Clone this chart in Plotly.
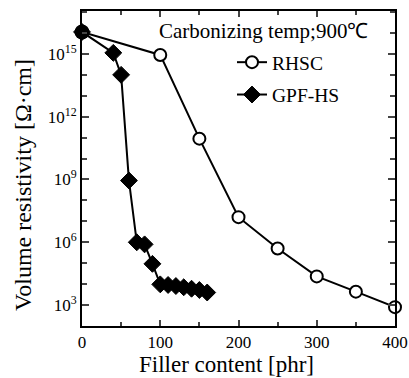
import plotly.graph_objects as go

rhsc_x = [0, 100, 150, 200, 250, 300, 350, 400]
rhsc_log = [16.05, 14.95, 10.95, 7.2, 5.7, 4.37, 3.64, 2.9]
gpf_x = [0, 40, 50, 60, 70, 80, 90, 100, 110, 120, 130, 140, 150, 160]
gpf_log = [16.05, 15.05, 14.0, 8.95, 6.0, 5.9, 4.97, 3.99, 3.96, 3.91, 3.85, 3.78, 3.72, 3.6]
y_tick_exp = [3, 6, 9, 12, 15]
x_ticks = [0, 100, 200, 300, 400]

rhsc_y = [10 ** v for v in rhsc_log]
gpf_y = [10 ** v for v in gpf_log]

FONT = "Liberation Serif"
W, H = 409, 378
L, R, T, B = 82, 14, 11, 52
pw, ph = W - L - R, H - T - B


def px(xp):
    return (xp - L) / pw


def py(yp):
    return 1 - (yp - T) / ph


fig = go.Figure()
fig.add_trace(go.Scatter(
    x=rhsc_x, y=rhsc_y, name="RHSC", mode="lines+markers", legendgroup="a",
    line=dict(color="black", width=2),
    marker=dict(symbol="circle", size=12, color="white",
                line=dict(color="black", width=2)),
    cliponaxis=False,
))
fig.add_trace(go.Scatter(
    x=gpf_x, y=gpf_y, name="GPF-HS", mode="lines+markers", legendgroup="b",
    line=dict(color="black", width=2),
    marker=dict(symbol="diamond", size=13, color="black",
                line=dict(color="black", width=1)),
    cliponaxis=False,
))
# solid blob at origin point
fig.add_trace(go.Scatter(
    x=[rhsc_x[0]], y=[rhsc_y[0]], mode="markers", showlegend=False,
    marker=dict(symbol="circle", size=15, color="black"),
    cliponaxis=False,
))

fig.add_annotation(
    x=px(157), y=py(31), xref="paper", yref="paper", xanchor="left", yanchor="middle",
    text="Carbonizing temp;900℃", showarrow=False,
    font=dict(family=FONT, size=21, color="black"),
)
fig.add_annotation(
    x=px(226), y=py(364), xref="paper", yref="paper", xanchor="center", yanchor="middle",
    text="Filler content [phr]", showarrow=False,
    font=dict(family=FONT, size=23, color="black"),
)
fig.add_annotation(
    x=px(23), y=py(185), xref="paper", yref="paper", xanchor="center", yanchor="middle",
    text="Volume resistivity [Ω·cm]", showarrow=False, textangle=-90,
    font=dict(family=FONT, size=24, color="black"),
)

fig.update_layout(
    width=W, height=H,
    margin=dict(l=L, r=R, t=T, b=B),
    paper_bgcolor="white", plot_bgcolor="white",
    font=dict(family=FONT, size=17, color="black"),
    legend=dict(x=px(232), y=py(43), xanchor="left", yanchor="top",
                bgcolor="rgba(0,0,0,0)", font=dict(size=19.5),
                traceorder="grouped", tracegroupgap=4, itemwidth=30),
)
fig.update_xaxes(
    range=[0, 400], tickvals=x_ticks, ticks="inside", ticklen=6, tickwidth=1.5,
    showline=True, linecolor="black", linewidth=2, mirror="ticks",
    showgrid=False, zeroline=False, automargin=False,
    minor=dict(tickvals=[50, 150, 250, 350], ticks="inside", ticklen=4, tickwidth=1.5),
)
fig.update_yaxes(
    type="log", range=[2, 17.05],
    tickvals=[10 ** e for e in y_tick_exp],
    ticktext=[f"10<sup>{e}</sup>" for e in y_tick_exp],
    ticks="inside", ticklen=7, tickwidth=1.5,
    showline=True, linecolor="black", linewidth=2, mirror="ticks",
    showgrid=False, zeroline=False, automargin=False,
    minor=dict(tickvals=[10 ** e for e in range(2, 18)], ticks="inside", ticklen=5, tickwidth=1.5),
)

fig.write_html(
    "out.html",
    config={"displayModeBar": False},
    post_script="document.body.style.margin='0px';document.body.style.padding='0px';",
)
